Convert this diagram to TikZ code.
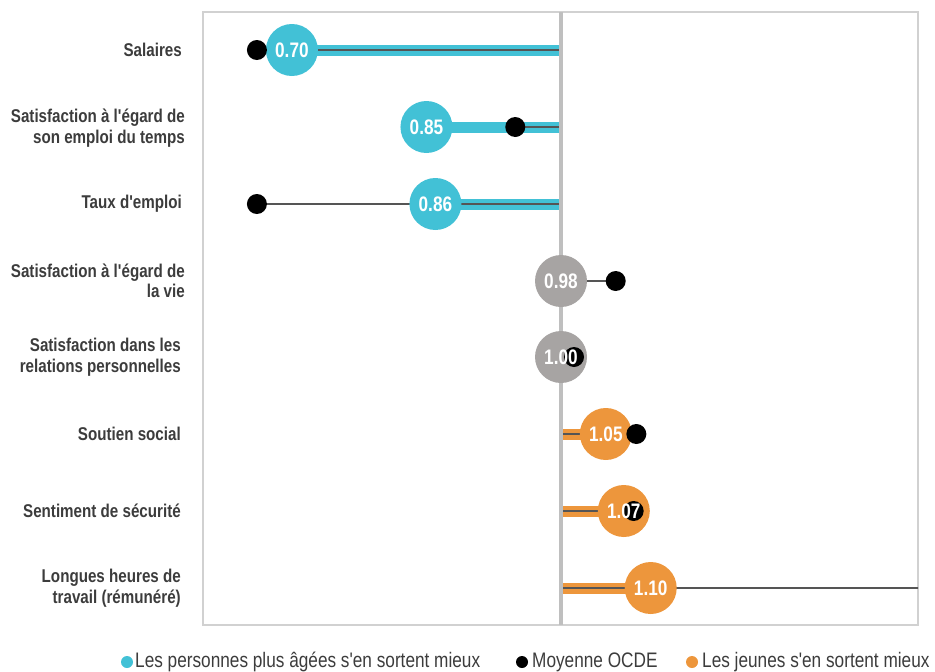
\documentclass[tikz,border=0pt]{standalone}
\usepackage{fontspec}
\setmainfont{Liberation Sans}[FakeStretch=0.82, Ligatures=TeXOff]
\definecolor{oldteal}{RGB}{66,193,214}
\definecolor{younorange}{RGB}{237,150,60}
\definecolor{samegray}{RGB}{167,164,163}
\definecolor{linegray}{RGB}{85,85,85}
\definecolor{textgray}{RGB}{60,60,60}
\tikzset{
  rowlabel/.style={anchor=east, align=right, text=textgray, font=\fontsize{18.5}{20.5}\selectfont\bfseries, inner sep=0pt},
  valdot/.style={circle, minimum size=52pt, inner sep=0pt},
  valtext/.style={text=white, font=\fontsize{21}{21}\selectfont\bfseries, inner sep=0pt},
  oecddot/.style={circle, fill=black, minimum size=20pt, inner sep=0pt},
  legdot/.style={circle, minimum size=12pt, inner sep=0pt},
  legtext/.style={anchor=west, text=textgray, font=\fontsize{21}{21}\selectfont, inner sep=0pt},
}
\begin{document}
\begin{tikzpicture}[x=1pt, y=-1pt]
    \useasboundingbox (0,0) rectangle (935,672);

    % Plot frame and the 1.00 line
    \draw[line width=2pt, color=black!18] (203,12) rectangle (918,625);
    \draw[line width=4pt, color=black!25] (561,12) -- (561,625);

    % Rows: y / circle position / OECD average / colour / printed value
    \begin{scope}
        \clip (203,12) rectangle (918,625);
        \begin{scope}[x=897pt, shift={(-336pt,0)}]
            \foreach \i/\y/\pos/\oecd/\col/\num in {
                1/50/0.70/0.661/oldteal/0.70,
                2/127/0.85/0.949/oldteal/0.85,
                3/204/0.86/0.661/oldteal/0.86,
                4/281/1.00/1.061/samegray/0.98,
                5/357/1.00/1.0145/samegray/1.00,
                6/434/1.05/1.084/younorange/1.05,
                7/511/1.07/1.081/younorange/1.07,
                8/588/1.10/1.45/younorange/1.10}
            {
                \coordinate (c\i) at (1,\y);
                \coordinate (p\i) at (\pos,\y);
                \coordinate (q\i) at (\oecd,\y);
                % coloured bar, then the thin line to the OECD average
                \draw[line width=11pt, color=\col, shorten <=2pt] (c\i) -- (p\i);
                \draw[line width=2pt, color=linegray, shorten <=2pt] (c\i) -- (q\i);
                \node[valdot, fill=\col] (v\i) at (p\i) {};
                \node[oecddot] (o\i) at (q\i) {};
                \node[valtext] (t\i) at (v\i) {\num};
            }
        \end{scope}
    \end{scope}

    % Row labels
    \node[rowlabel] (lab1) at (182,50) {Salaires};
    \node[rowlabel] (lab2) at (185,128) {Satisfaction à l'égard de\\son emploi du temps};
    \node[rowlabel] (lab3) at (182,204) {Taux d'emploi};
    \node[rowlabel] (lab4) at (185,281) {Satisfaction à l'égard de\\la vie};
    \node[rowlabel] (lab5) at (181,357) {Satisfaction dans les\\relations personnelles};
    \node[rowlabel] (lab6) at (181,434) {Soutien social};
    \node[rowlabel] (lab7) at (181,511) {Sentiment de sécurité};
    \node[rowlabel] (lab8) at (181,588) {Longues heures de\\travail (rémunéré)};

    % Legend
    \node[legdot, fill=oldteal] (leg1dot) at (127,662) {};
    \node[legtext] (leg1) at (135,662) {Les personnes plus âgées s'en sortent mieux};
    \node[legdot, fill=black] (leg2dot) at (522,662) {};
    \node[legtext] (leg2) at (532,662) {Moyenne OCDE};
    \node[legdot, fill=younorange] (leg3dot) at (692,662) {};
    \node[legtext] (leg3) at (702,662) {Les jeunes s'en sortent mieux};
\end{tikzpicture}
\end{document}
